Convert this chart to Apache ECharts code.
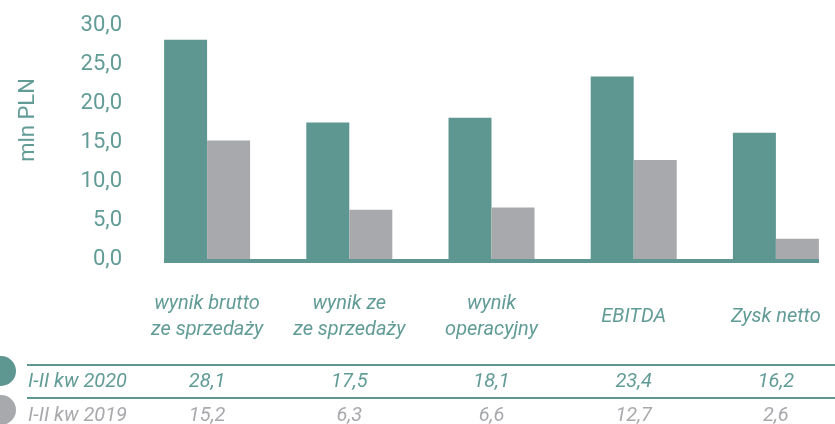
<!DOCTYPE html>
<html>
<head>
<meta charset="utf-8">
<script src="https://cdn.jsdelivr.net/npm/echarts@6/dist/echarts.min.js"></script>
<style>
  html, body { margin: 0; padding: 0; background: #fff; }
  #main { width: 835px; height: 424px; }
</style>
</head>
<body>
<div id="main"></div>
<script>
const teal = '#5e9792';
const tealText = '#629c97';
const grey = '#a8a9ac';

const categories = ['wynik brutto\nze sprzedaży', 'wynik ze\nze sprzedaży', 'wynik\noperacyjny', 'EBITDA', 'Zysk netto'];
const seriesNames = ['I-II kw 2020', 'I-II kw 2019'];
const values2020 = [28.1, 17.5, 18.1, 23.4, 16.2];
const values2019 = [15.2, 6.3, 6.6, 12.7, 2.6];
const yTicks = [0, 5, 10, 15, 20, 25, 30];

const fmt = v => v.toFixed(1).replace('.', ',');

const chart = echarts.init(document.getElementById('main'));

// rows of the table under the chart are extra category axes
function tableAxis(values, color, margin) {
  return {
    type: 'category',
    gridIndex: 0,
    position: 'bottom',
    data: values.map(fmt),
    axisLine: { show: false },
    axisTick: { show: false },
    axisLabel: {
      interval: 0,
      margin: margin,
      verticalAlign: 'middle',
      color: color,
      fontFamily: 'Roboto',
      fontStyle: 'italic',
      fontSize: 20
    }
  };
}

const option = {
  animation: false,
  grid: { left: 136, right: -12, top: 25, bottom: 165, containLabel: false, outerBoundsMode: 'none' },
  xAxis: [{
    type: 'category',
    data: categories,
    axisLine: { show: false },
    axisTick: { show: false },
    axisLabel: {
      interval: 0,
      margin: 58,
      verticalAlign: 'middle',
      lineHeight: 26,
      color: tealText,
      fontFamily: 'Roboto',
      fontStyle: 'italic',
      fontSize: 20
    }
  },
    tableAxis(values2020, tealText, 123),
    tableAxis(values2019, grey, 157)
  ],
  yAxis: {
    type: 'value',
    min: yTicks[0],
    max: yTicks[yTicks.length - 1],
    interval: 5,
    splitLine: { show: false },
    axisLine: { show: false },
    axisTick: { show: false },
    axisLabel: {
      margin: 14,
      color: tealText,
      fontFamily: 'Roboto',
      fontSize: 22,
      formatter: fmt
    }
  },
  series: [{
    name: seriesNames[0],
    type: 'bar',
    data: values2020,
    barWidth: 43,
    barGap: '0%',
    itemStyle: { color: teal }
  }, {
    name: seriesNames[1],
    type: 'bar',
    data: values2019,
    barWidth: 43,
    itemStyle: { color: grey }
  }],
  graphic: [
    // baseline under bars
    { type: 'rect', shape: { x: 164, y: 259, width: 655, height: 4 }, style: { fill: teal } },
    // axis name
    {
      type: 'text', x: 28, y: 120, rotation: Math.PI / 2,
      style: { text: 'mln PLN', fill: tealText, font: '22px Roboto', align: 'center', verticalAlign: 'middle' }
    },
    // table lines
    { type: 'line', shape: { x1: 27, y1: 365, x2: 835, y2: 365 }, style: { stroke: teal, lineWidth: 2 } },
    { type: 'line', shape: { x1: 27, y1: 398, x2: 835, y2: 398 }, style: { stroke: teal, lineWidth: 2 } },
    // legend dots
    { type: 'circle', shape: { cx: 1, cy: 371, r: 15 }, style: { fill: teal } },
    { type: 'circle', shape: { cx: 1, cy: 410, r: 15 }, style: { fill: grey } },
    {
      type: 'text', x: 28, y: 382,
      style: { text: seriesNames[0], fill: tealText, font: 'italic 20px Roboto', verticalAlign: 'middle' }
    },
    {
      type: 'text', x: 28, y: 416,
      style: { text: seriesNames[1], fill: grey, font: 'italic 20px Roboto', verticalAlign: 'middle' }
    }
  ]
};

chart.setOption(option);
</script>
</body>
</html>
